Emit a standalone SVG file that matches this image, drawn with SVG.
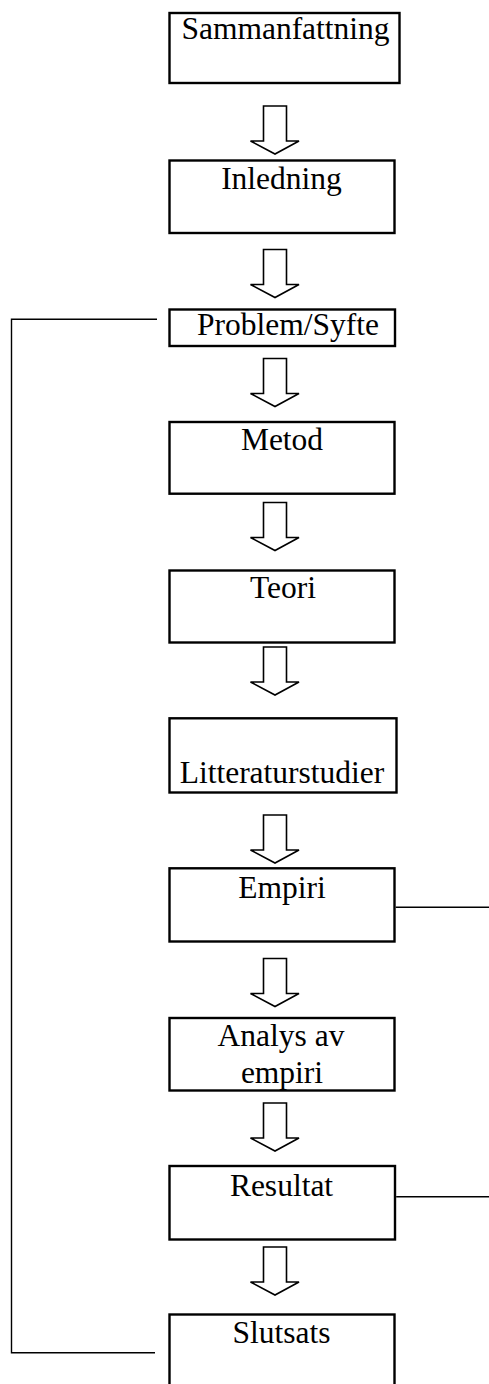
<svg xmlns="http://www.w3.org/2000/svg" width="489" height="1384" viewBox="0 0 489 1384">
  <style>
    .box { fill: #ffffff; stroke: #000000; stroke-width: 2.4; }
    .lbl { font-family: "Liberation Serif", "Times New Roman", serif; font-size: 31.5px; fill: #000000; text-anchor: middle; }
    .arrow { fill: #ffffff; stroke: #000000; stroke-width: 1.6; stroke-linejoin: miter; }
    .link { fill: none; stroke: #000000; stroke-width: 1.4; }
  </style>
  <defs>
    <!-- hollow block arrow pointing down, origin at top of shaft -->
    <polygon id="blockArrow" class="arrow" points="263.5,0 286.5,0 286.5,35 299,35 275,48 250.5,35 263.5,35"/>
  </defs>
  <rect width="489" height="1384" fill="#ffffff"/>

  <g id="connectors">
    <use href="#blockArrow" y="106"/>
    <use href="#blockArrow" y="249.5"/>
    <use href="#blockArrow" y="358.5"/>
    <use href="#blockArrow" y="502.5"/>
    <use href="#blockArrow" y="647"/>
    <use href="#blockArrow" y="815"/>
    <use href="#blockArrow" y="958.5"/>
    <use href="#blockArrow" y="1103"/>
    <use href="#blockArrow" y="1247"/>
    <!-- feedback line from Slutsats back to Problem/Syfte -->
    <polyline class="link" points="157,319.3 11.5,319.3 11.5,1352.8 155,1352.8"/>
    <!-- side lines leaving Empiri and Resultat -->
    <line class="link" x1="395.7" y1="907.3" x2="489" y2="907.3"/>
    <line class="link" x1="396.2" y1="1196.7" x2="489" y2="1196.7"/>
  </g>

  <g id="sammanfattning">
    <rect class="box" x="169.5" y="13" width="230" height="70"/>
    <text class="lbl" x="285.5" y="39">Sammanfattning</text>
  </g>
  <g id="inledning">
    <rect class="box" x="169.5" y="160.5" width="225" height="72.5"/>
    <text class="lbl" x="281.5" y="189">Inledning</text>
  </g>
  <g id="problem-syfte">
    <rect class="box" x="169.5" y="309.5" width="225.5" height="36.5"/>
    <text class="lbl" x="288" y="335">Problem/Syfte</text>
  </g>
  <g id="metod">
    <rect class="box" x="169.5" y="422" width="225" height="71.7"/>
    <text class="lbl" x="282" y="450">Metod</text>
  </g>
  <g id="teori">
    <rect class="box" x="169.5" y="570.5" width="225" height="72"/>
    <text class="lbl" x="283" y="598">Teori</text>
  </g>
  <g id="litteraturstudier">
    <rect class="box" x="169.5" y="718.3" width="227" height="74.2"/>
    <text class="lbl" x="282" y="783">Litteraturstudier</text>
  </g>
  <g id="empiri">
    <rect class="box" x="169.5" y="868.3" width="225" height="73.2"/>
    <text class="lbl" x="282" y="898">Empiri</text>
  </g>
  <g id="analys">
    <rect class="box" x="169.5" y="1018" width="225" height="72.5"/>
    <text class="lbl" x="281" y="1046">Analys av</text>
    <text class="lbl" x="282" y="1083">empiri</text>
  </g>
  <g id="resultat">
    <rect class="box" x="169.5" y="1166" width="225.5" height="73.5"/>
    <text class="lbl" x="281.5" y="1196">Resultat</text>
  </g>
  <g id="slutsats">
    <rect class="box" x="169.5" y="1314.5" width="225" height="80"/>
    <text class="lbl" x="281.5" y="1343">Slutsats</text>
  </g>
</svg>
